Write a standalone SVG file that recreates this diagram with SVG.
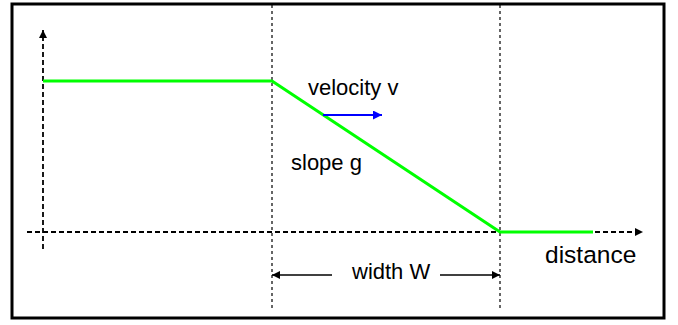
<svg xmlns="http://www.w3.org/2000/svg" width="678" height="325" viewBox="0 0 678 325">
<style>
.axis{stroke:#000;stroke-width:1.8;stroke-dasharray:5 3;fill:none}
.guide{stroke:#000;stroke-width:1.2;stroke-dasharray:3 3;fill:none}
.curve{stroke:#00ff00;stroke-width:3;fill:none}
.dim{stroke:#000;stroke-width:1.4;fill:none}
.lbl{font-family:"Liberation Sans",Arial,sans-serif;font-size:22px;fill:#000}
</style>
<defs>
<marker id="ah" viewBox="0 0 10 10" refX="10" refY="5" markerWidth="8" markerHeight="8" markerUnits="userSpaceOnUse" orient="auto-start-reverse">
<path d="M0,0 L10,5 L0,10 z" fill="#000"/>
</marker>
<marker id="ahb" viewBox="0 0 10 10" refX="10" refY="5" markerWidth="9" markerHeight="9" markerUnits="userSpaceOnUse" orient="auto">
<path d="M0,0 L10,5 L0,10 z" fill="#0000ff"/>
</marker>
</defs>
<rect id="frame" x="12" y="4" width="652" height="314" fill="#fff" stroke="#000" stroke-width="3"/>
<g id="connectors">
<line class="axis" x1="43" y1="249" x2="43" y2="30" marker-end="url(#ah)"/>
<line class="axis" x1="27" y1="232" x2="643" y2="232" marker-end="url(#ah)"/>
<line class="guide" x1="272" y1="5" x2="272" y2="308"/>
<line class="guide" x1="500" y1="5" x2="500" y2="308"/>
<polyline class="curve" points="43,81 272,81 500,232 593,232"/>
<line x1="323" y1="115" x2="382" y2="115" stroke="#0000ff" stroke-width="2" marker-end="url(#ahb)"/>
<line class="dim" x1="332" y1="275" x2="272" y2="275" marker-end="url(#ah)"/>
<line class="dim" x1="440" y1="275" x2="500" y2="275" marker-end="url(#ah)"/>
</g>
<g id="label-velocity"><text class="lbl" x="308" y="95">velocity v</text></g>
<g id="label-slope"><text class="lbl" x="291" y="170">slope g</text></g>
<g id="label-width"><text class="lbl" x="352" y="279">width W</text></g>
<g id="label-distance"><text class="lbl" x="545" y="263" style="font-size:24.5px">distance</text></g>
</svg>
